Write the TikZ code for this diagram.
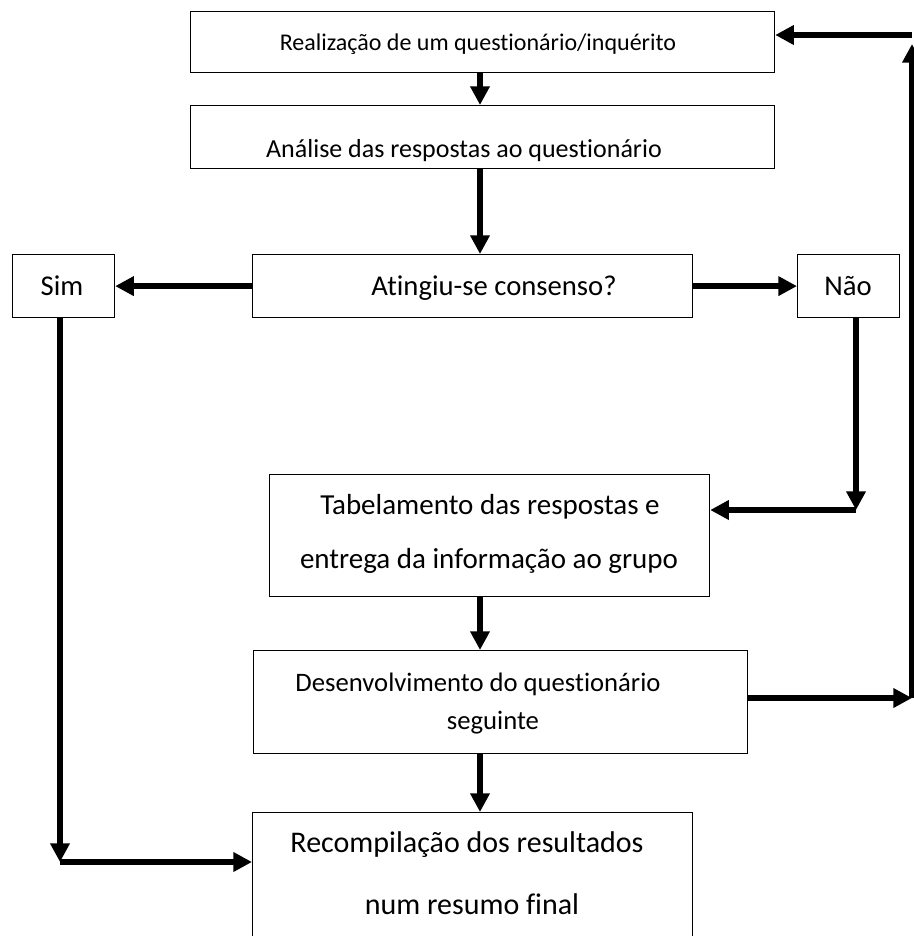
\documentclass[tikz,border=0pt]{standalone}
\usepackage{fontspec}
\setmainfont{Carlito}[Ligatures=NoCommon]
\usetikzlibrary{arrows.meta}
\begin{document}
\begin{tikzpicture}[x=0.75pt,y=-0.75pt,
  boxnode/.style={draw, line width=0.9pt, inner sep=0pt, anchor=north west},
  txt/.style={inner sep=0pt, anchor=base},
  arr/.style={line width=4.2pt, -{Triangle[length=14pt,width=14pt]}}]
\useasboundingbox (0,0) rectangle (914,936);
\clip (0,0) rectangle (914,936);

% boxes
\node[boxnode, minimum width=438pt, minimum height=45.75pt] (b1) at (190,11) {};
\node[boxnode, minimum width=438pt, minimum height=47.25pt] (b2) at (190,105) {};
\node[boxnode, minimum width=330pt, minimum height=47.25pt] (b3) at (252,254) {};
\node[boxnode, minimum width=76.5pt, minimum height=47.25pt] (sim) at (12,254) {};
\node[boxnode, minimum width=76.5pt, minimum height=47.25pt] (nao) at (797,254) {};
\node[boxnode, minimum width=330pt, minimum height=91.5pt] (b4) at (269,474) {};
\node[boxnode, minimum width=370.5pt, minimum height=77.25pt] (b5) at (253,650) {};
\node[boxnode, minimum width=330pt, minimum height=105pt] (b6) at (252,812) {};

% texts
\node[txt, font=\fontsize{18}{22}\selectfont] (t1) at (478,50) {Realização de um questionário/inquérito};
\node[txt, font=\fontsize{19.5}{24}\selectfont] (t2) at (464,157) {Análise das respostas ao questionário};
\node[txt, font=\fontsize{21.5}{26}\selectfont] (t3) at (494,295) {Atingiu-se consenso?};
\node[txt, font=\fontsize{21.5}{26}\selectfont] (tsim) at (62,295) {Sim};
\node[txt, font=\fontsize{21.5}{26}\selectfont] (tnao) at (848,295) {Não};
\node[txt, font=\fontsize{21.75}{26}\selectfont] (t4a) at (490,514) {Tabelamento das respostas e};
\node[txt, font=\fontsize{21.75}{26}\selectfont] (t4b) at (489,568) {entrega da informação ao grupo};
\node[txt, font=\fontsize{20}{24}\selectfont] (t5a) at (478,691) {Desenvolvimento do questionário};
\node[txt, font=\fontsize{20}{24}\selectfont] (t5b) at (493,729) {seguinte};
\node[txt, font=\fontsize{22.5}{27}\selectfont] (t6a) at (467,852) {Recompilação dos resultados};
\node[txt, font=\fontsize{22.5}{27}\selectfont] (t6b) at (472,914) {num resumo final};

% helper coordinates
\coordinate (col) at (480,0);
\coordinate (c1) at (856,510);
\coordinate (c2) at (912,698);
\coordinate (c3) at (912,35);
\coordinate (c3b) at (912,44);
\coordinate (c4) at (60,862);

% connectors
\draw[arr] (b1.south -| col) -- (b2.north -| col);
\draw[arr] (b2.south -| col) -- (b3.north -| col);
\draw[arr] (b3.west) -- (sim.east);
\draw[arr] (b3.east) -- (nao.west);
\draw[arr] (nao.south -| c1) -- (c1);
\draw[arr] (c1) -- (c1 -| b4.east);
\draw[arr] (b4.south -| col) -- (b5.north -| col);
\draw[arr] (c2 -| b5.east) -- (c2);
\draw[arr] (c2) -- (c3b);
\draw[arr] (c3) -- (c3 -| b1.east);
\draw[arr] (b5.south -| col) -- (b6.north -| col);
\draw[arr] (sim.south -| c4) -- (c4);
\draw[arr] (c4) -- (c4 -| b6.west);
\end{tikzpicture}
\end{document}
